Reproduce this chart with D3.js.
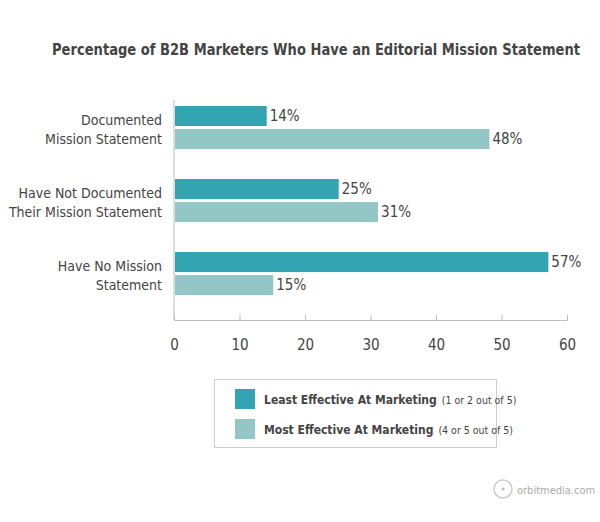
<!DOCTYPE html>
<html><head><meta charset="utf-8">
<script src="https://cdn.jsdelivr.net/npm/d3@7"></script>
<style>body{margin:0;background:#fff}text{font-family:"DejaVu Sans Condensed","DejaVu Sans",sans-serif;font-stretch:condensed}</style>
</head><body><svg id="c" width="600" height="522"></svg>
<script>
const categories=[["Documented","Mission Statement"],["Have Not Documented","Their Mission Statement"],["Have No Mission","Statement"]];
const seriesNames=["Least Effective At Marketing","Most Effective At Marketing"];
const seriesNotes=["(1 or 2 out of 5)","(4 or 5 out of 5)"];
const leastValues=[14,25,57];
const mostValues=[48,31,15];
const ticks=[0,10,20,30,40,50,60];
const colors=["#33a5b2","#93c6c7"];
const svg=d3.select("#c");
svg.append("text").attr("x",52).attr("y",55)
  .attr("font-size",15.5).attr("font-weight","bold").attr("fill","#444")
  .attr("textLength",528).attr("lengthAdjust","spacingAndGlyphs")
  .text("Percentage of B2B Marketers Who Have an Editorial Mission Statement");
const x=d3.scaleLinear().domain([0,60]).range([174,567]);
const y=d3.scaleBand().domain(d3.range(3)).range([91.4,309.7]).paddingInner(0.41).paddingOuter(0.2);
const sub=d3.scaleBand().domain([0,1]).range([0,y.bandwidth()]).paddingInner(0.13);
svg.append("line").attr("x1",x(0)).attr("x2",x(0)).attr("y1",100).attr("y2",320).attr("stroke","#bbb");
const ax=svg.append("g").attr("transform","translate(0,320)")
  .call(d3.axisBottom(x).tickValues(ticks).tickSize(5).tickSizeOuter(0).tickPadding(14));
ax.select(".domain").attr("stroke","#bbb");
ax.selectAll(".tick line").attr("stroke","#bbb").attr("transform","translate(0,-5)");
ax.selectAll(".tick text").attr("font-size",15).attr("fill","#444").style("font-family",null);
const rows=d3.range(3).map(i=>[leastValues[i],mostValues[i]]);
const g=svg.append("g");
rows.forEach((vals,i)=>{
  vals.forEach((v,j)=>{
    const yy=y(i)+sub(j);
    g.append("rect").attr("x",x(0)+1).attr("y",yy).attr("width",x(v)-x(0)).attr("height",sub.bandwidth()).attr("fill",colors[j]);
    g.append("text").attr("x",x(v)+4).attr("y",yy+sub.bandwidth()/2+5).attr("font-size",15).attr("fill","#444").text(v+"%");
  });
  const t=g.append("text").attr("x",162).attr("text-anchor","end").attr("font-size",14).attr("fill","#444");
  categories[i].forEach((l,k)=>t.append("tspan").attr("x",162).attr("y",y(i)+y.bandwidth()/2-3+k*19).text(l));
});
const lg=svg.append("g");
lg.append("rect").attr("x",214.5).attr("y",379.5).attr("width",282).attr("height",68).attr("fill","#fff").attr("stroke","#ccc");
colors.forEach((c,j)=>{
  const yy=389+j*30;
  lg.append("rect").attr("x",235).attr("y",yy).attr("width",20).attr("height",20).attr("fill",c);
  const t=lg.append("text").attr("x",264).attr("y",yy+15).attr("fill","#444");
  t.append("tspan").attr("font-size",12).attr("font-weight","bold").text(seriesNames[j]);
  t.append("tspan").attr("font-size",10.5).attr("dx",5).text(seriesNotes[j]);
});
svg.append("circle").attr("cx",503).attr("cy",489).attr("r",9).attr("fill","none").attr("stroke","#ccc").attr("stroke-width",1.5);
svg.append("circle").attr("cx",503).attr("cy",489).attr("r",1.5).attr("fill","#bbb");
svg.append("text").attr("x",517).attr("y",494).attr("font-size",11).attr("fill","#aaa").text("orbitmedia.com");
</script></body></html>
